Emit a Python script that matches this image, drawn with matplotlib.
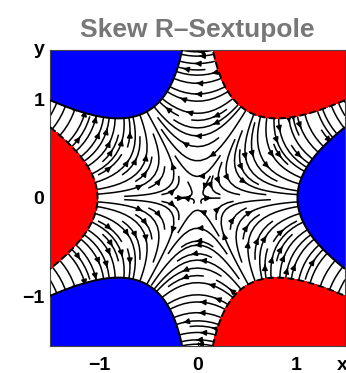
import numpy as np
import matplotlib
matplotlib.use("Agg")
import matplotlib.pyplot as plt

# chart settings
title = "Skew R\u2013Sextupole"
x_range = [-1.5, 1.5]
y_range = [-1.5, 1.5]
tick_values = [-1, 0, 1]
tick_labels = ["\u22121", "0", "1"]
threshold = 1.05          # |potential| above which regions are filled
fill_colors = ["#ff0000", "#0000ff"]   # negative, positive

plt.rcParams["font.family"] = ["Liberation Sans", "DejaVu Sans"]

# skew sextupole potential and its gradient
xs = np.linspace(x_range[0], x_range[1], 301)
ys = np.linspace(y_range[0], y_range[1], 301)
X, Y = np.meshgrid(xs, ys)
phi = X**3 - 3 * X * Y**2
U = 3 * X**2 - 3 * Y**2
V = -6 * X * Y

fig = plt.figure(figsize=(3.46, 3.73), dpi=100)
ax = fig.add_axes([50 / 346, 27 / 373, 295 / 346, 296 / 373])

ax.streamplot(X, Y, U, V, color="black", linewidth=1.1, density=1.55,
              arrowsize=0.8, arrowstyle="-|>", minlength=0.08, zorder=1)

ax.contourf(X, Y, phi, levels=[-100, -threshold], colors=[fill_colors[0]], zorder=2)
ax.contourf(X, Y, phi, levels=[threshold, 100], colors=[fill_colors[1]], zorder=2)
ax.contour(X, Y, phi, levels=[-threshold, threshold], colors="black",
           linewidths=1.4, zorder=3)

ax.set_xlim(x_range)
ax.set_ylim(y_range)
ax.set_xticks(tick_values)
ax.set_xticklabels(tick_labels)
ax.set_yticks(tick_values)
ax.set_yticklabels(tick_labels)
ax.tick_params(direction="in", length=3, width=0.8, labelsize=14, pad=8)
for lab in ax.get_xticklabels() + ax.get_yticklabels():
    lab.set_fontweight("bold")
ax.tick_params(axis="y", pad=4)
for s in ax.spines.values():
    s.set_color("#444444")
    s.set_linewidth(0.8)

ax.set_title(title, color="#777777", fontweight="bold", fontsize=19, pad=9)
fig.text(342 / 346, 1 - 365 / 373, "x", fontsize=14, fontweight="bold",
         ha="center", va="center")
fig.text(39 / 346, 1 - 50 / 373, "y", fontsize=14, fontweight="bold",
         ha="center", va="center")

fig.savefig("out.png", dpi=100)
